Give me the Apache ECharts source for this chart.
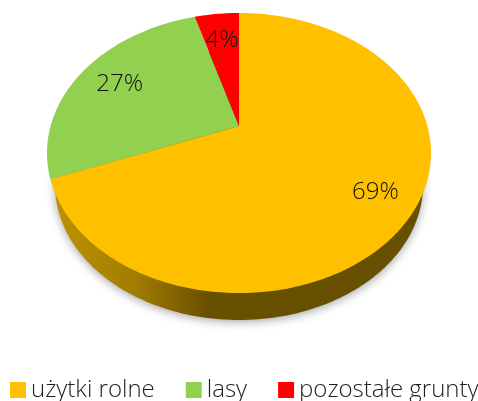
<!DOCTYPE html>
<html>
<head>
<meta charset="utf-8">
<style>
  html, body { margin: 0; padding: 0; background: #fff; }
  #main { width: 478px; height: 401px; }
</style>
<script src="https://cdn.jsdelivr.net/npm/echarts@6/dist/echarts.min.js"></script>
</head>
<body>
<div id="main"></div>
<script>
const categories = ['użytki rolne', 'lasy', 'pozostałe grunty']
const shares = [69, 26.5, 4.49]
const colors = ['#ffc000', '#92d050', '#ff0000']
// how far out the label sits in each slice, 1 = rim
const labelRadius = [0.8, 0.75, 0.73]

const font = '"Open Sans", sans-serif'
const total = shares.reduce((a, b) => a + b, 0)

// disc seen in perspective: the pie centre is not the ellipse centre
const apexX = 239
const apexY = 126
const scaleX = 188.4
const scaleY = 134.8
const tilt = 0.193

// clockwise from 12 o'clock
function project(angle, r) {
  const u = Math.sin(angle) * r
  const v = Math.cos(angle) * r
  const w = 1 + tilt * v
  return [apexX + scaleX * u / w, apexY - scaleY * v / w]
}

function renderSlice(params, api) {
  const start = api.value(0) / total * Math.PI * 2
  const end = (api.value(0) + api.value(1)) / total * Math.PI * 2
  const steps = Math.max(4, Math.ceil((end - start) * 60))
  const points = [project(0, 0)]
  for (let i = 0; i <= steps; i++) {
    points.push(project(start + (end - start) * i / steps, 1))
  }
  const i = params.seriesIndex - 1
  const pos = project((start + end) / 2, labelRadius[i])
  return {
    type: 'group',
    children: [
      {
        type: 'polygon',
        shape: { points },
        style: { fill: colors[i] }
      },
      {
        type: 'text',
        x: pos[0],
        y: pos[1],
        style: {
          text: Math.round(api.value(1)) + '%',
          font: '300 24px ' + font,
          fill: '#111111',
          align: 'center',
          verticalAlign: 'middle'
        }
      }
    ]
  }
}

// lower rim of the disc, the top surface hides all but the front of it
function renderSide() {
  const points = []
  for (let i = 0; i < 240; i++) {
    const a = i / 240 * Math.PI * 2
    points.push([apexX + 184 * Math.sin(a), 185 + 135 * Math.cos(a)])
  }
  return {
    type: 'polygon',
    shape: { points },
    style: {
      fill: new echarts.graphic.LinearGradient(0, 0, 1, 0, [
        { offset: 0, color: '#bd9200' },
        { offset: 0.22, color: '#a17c00' },
        { offset: 0.42, color: '#684f00' },
        { offset: 1, color: '#665000' }
      ]),
      shadowBlur: 10,
      shadowColor: 'rgba(0,0,0,0.35)',
      shadowOffsetY: 2
    }
  }
}

let running = 0
const sliceSeries = categories.map((name, i) => {
  const item = [running, shares[i]]
  running += shares[i]
  return {
    name,
    type: 'custom',
    coordinateSystem: 'none',
    renderItem: renderSlice,
    itemStyle: { color: colors[i] },
    data: [item],
    silent: true,
    z: 2
  }
})

const chart = echarts.init(document.getElementById('main'), null, { renderer: 'canvas' })
chart.setOption({
  animation: false,
  legend: {
    left: 10,
    top: 378,
    width: 520,
    padding: 0,
    icon: 'rect',
    itemWidth: 16,
    itemHeight: 16,
    itemGap: 31,
    data: categories,
    textStyle: {
      fontFamily: font,
      fontWeight: 300,
      fontSize: 24,
      color: '#1f1f1f'
    }
  },
  series: [
    {
      type: 'custom',
      coordinateSystem: 'none',
      renderItem: renderSide,
      data: [[0]],
      silent: true,
      z: 1
    },
    ...sliceSeries
  ]
})
</script>
</body>
</html>
